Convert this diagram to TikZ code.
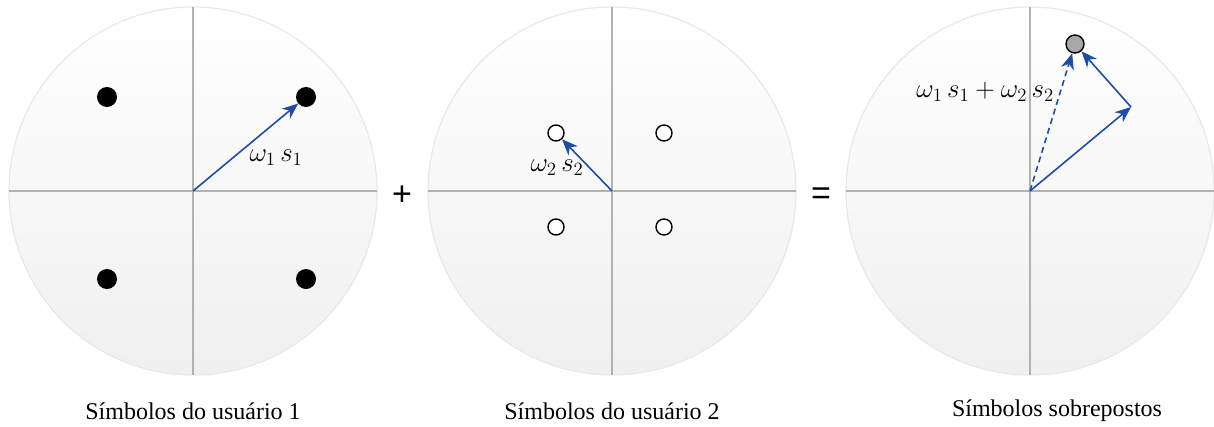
\documentclass[tikz,border=0pt]{standalone}
\usepackage{graphicx}
\usepackage{fontspec}
\setmainfont{Liberation Serif}
\newfontfamily\opfont{Liberation Sans}
\usetikzlibrary{arrows.meta}
\definecolor{vecblue}{RGB}{31,78,160}
\definecolor{axisgray}{RGB}{178,178,178}
\definecolor{rimgray}{RGB}{232,232,232}
\definecolor{dotgray}{RGB}{168,168,168}
\newcommand{\biglab}[1]{\scalebox{1.3}{$#1$}}
\tikzset{
  disc/.style={top color=white, bottom color=black!6, draw=rimgray, line width=1.2pt},
  axis/.style={draw=axisgray, line width=1.4pt},
  fulldot/.style={circle, fill=black, inner sep=0pt, minimum size=20pt},
  opendot/.style={circle, draw=black, line width=1.4pt, fill=white, inner sep=0pt, minimum size=16pt},
  sumdot/.style={circle, draw=black, line width=1.4pt, fill=dotgray, inner sep=0pt, minimum size=18pt},
  vec/.style={draw=vecblue, line width=1.6pt, -{Stealth[length=16pt,width=13pt,inset=5pt]}},
  dvec/.style={vec, dash pattern=on 6pt off 4pt},
  lab/.style={inner sep=0pt, font=\fontsize{22}{26}\selectfont},
  caption/.style={inner sep=0pt, font=\fontsize{24}{28}\selectfont},
  op/.style={inner sep=0pt, font=\opfont\fontsize{34}{34}\selectfont}
}
\begin{document}
\begin{tikzpicture}[x=1pt,y=-1pt]
\useasboundingbox (0,0) rectangle (1214,426);
\fill[white] (0,0) rectangle (1214,426);
% discs
\foreach \cx/\nm in {193/c1, 612/c2, 1030/c3}{
  \shade[disc] (\cx,191) circle (184);
  \draw[axis] (\cx-184,191) -- (\cx+184,191);
  \draw[axis] (\cx,7) -- (\cx,375);
  \coordinate (\nm) at (\cx,191);
}
% user 1
\node[fulldot] (d11) at (107,97) {};
\node[fulldot] (d12) at (306,97) {};
\node[fulldot] (d13) at (107,279) {};
\node[fulldot] (d14) at (306,279) {};
\draw[vec] (c1) -- (d12);
\node[lab] (l1) at (276,158) {\biglab{\omega_1\,s_1}};
% user 2
\node[opendot] (o21) at (556,133) {};
\node[opendot] (o22) at (664,133) {};
\node[opendot] (o23) at (556,227) {};
\node[opendot] (o24) at (664,227) {};
\draw[vec] (c2) -- (o21);
\node[lab] (l2) at (557,168) {\biglab{\omega_2\,s_2}};
% superposed
\coordinate (p) at (1131,107);
\node[sumdot] (g) at (1075,44) {};
\draw[vec] (c3) -- (p);
\draw[vec] (p) -- (g);
\draw[dvec] (c3) -- (g);
\node[lab, anchor=east] (l3) at (1054,92) {\biglab{\omega_1\,s_1+\omega_2\,s_2}};
% operators
\node[op] (plus) at (402,196) {+};
\node[op] (eq) at (821,196) {=};
% captions
\node[caption] (t1) at (193,411) {Símbolos do usuário 1};
\node[caption] (t2) at (612,411) {Símbolos do usuário 2};
\node[caption] (t3) at (1057,411) {Símbolos sobrepostos};
\end{tikzpicture}
\end{document}
